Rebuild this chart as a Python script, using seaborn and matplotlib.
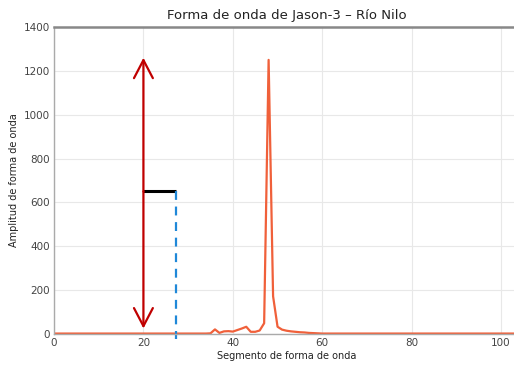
import numpy as np
import pandas as pd
import matplotlib
matplotlib.use("Agg")
import matplotlib.pyplot as plt
import seaborn as sns

sns.set_style("white")
plt.rcParams['font.family'] = ['DejaVu Sans']

# Waveform gates 0..103
gates = list(range(104))
amp_head = [2] * 35  # gates 0..34
amp_mid = [3, 21, 5, 12, 13, 11, 18, 25, 33, 10, 10, 16, 49, 1250, 172, 33,
           20, 15, 12, 10, 8, 7, 5, 4, 3]  # gates 35..59
amp_tail = [2] * (104 - 35 - len(amp_mid))
amplitude = amp_head + amp_mid + amp_tail

title = "Forma de onda de Jason-3 – Río Nilo"
xlabel = "Segmento de forma de onda"
ylabel = "Amplitud de forma de onda"

arrow_x = 20
arrow_top = 1260
arrow_bottom = 0
half_y = 650
track_x = 27.3
dash_bottom = -25

df = pd.DataFrame({"gate": gates, "amp": amplitude})

fig = plt.figure(figsize=(5.14, 3.65), dpi=100)
ax = fig.add_axes([54/514, 31/365, 465/514, 307/365])

sns.lineplot(data=df, x="gate", y="amp", ax=ax, color="#f0603a", linewidth=1.6)

ax.set_xlim(0, 104)
ax.set_ylim(0, 1400)
ax.set_xticks([0, 20, 40, 60, 80, 100])
ax.set_yticks(range(0, 1401, 200))
ax.grid(True, color="#e8e8e8", linewidth=0.8)
ax.set_axisbelow(True)
for s in ax.spines.values():
    s.set_color("#aaaaaa")
    s.set_linewidth(1.0)
ax.spines["top"].set_color("#888888")
ax.spines["top"].set_linewidth(1.8)
ax.tick_params(labelsize=7.5, colors="#444444", length=2, pad=1)
ax.set_title(title, fontsize=9.5, color="#222222", pad=6)
ax.set_xlabel(xlabel, fontsize=7, color="#222222", labelpad=2)
ax.set_ylabel(ylabel, fontsize=7, color="#222222", labelpad=3)

# annotations
head = "->,head_length=0.65,head_width=0.34"
ax.annotate("", xy=(arrow_x, arrow_top), xytext=(arrow_x, half_y),
            arrowprops=dict(arrowstyle=head, color="#c00000", lw=1.6,
                            mutation_scale=20, shrinkA=0, shrinkB=0))
ax.annotate("", xy=(arrow_x, arrow_bottom + 25), xytext=(arrow_x, half_y),
            arrowprops=dict(arrowstyle=head, color="#c00000", lw=1.6,
                            mutation_scale=20, shrinkA=0, shrinkB=0))
ax.plot([arrow_x, track_x], [half_y, half_y], color="black", lw=2.2,
        solid_capstyle="butt")
ax.plot([track_x, track_x], [half_y, dash_bottom], color="#1f88d8", lw=1.6,
        linestyle=(0, (4, 3)), clip_on=False)

fig.savefig("out.png", dpi=100)
